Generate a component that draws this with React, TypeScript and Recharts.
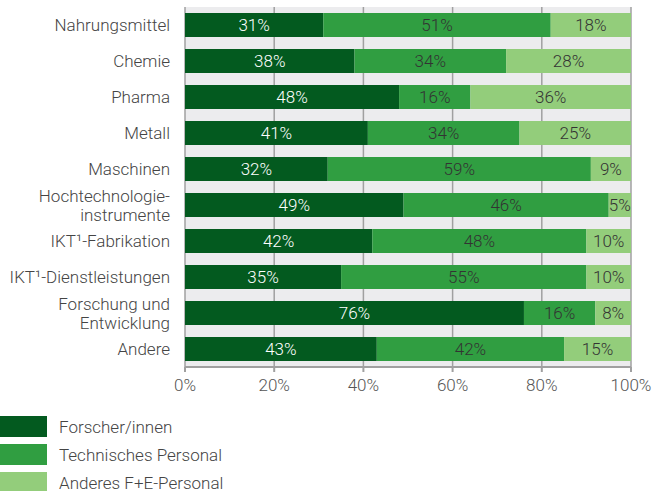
import React from 'react';
import { BarChart, Bar, XAxis, YAxis, CartesianGrid, LabelList } from 'recharts';

const categories = [
  'Nahrungsmittel',
  'Chemie',
  'Pharma',
  'Metall',
  'Maschinen',
  'Hochtechnologie-\ninstrumente',
  'IKT\u00b9-Fabrikation',
  'IKT\u00b9-Dienstleistungen',
  'Forschung und\nEntwicklung',
  'Andere',
];
const forscher = [31, 38, 48, 41, 32, 49, 42, 35, 76, 43];
const technisch = [51, 34, 16, 34, 59, 46, 48, 55, 16, 42];
const anderes = [18, 28, 36, 25, 9, 5, 10, 10, 8, 15];
const xTicks = [0, 20, 40, 60, 80, 100];

const series = [
  { key: 'forscher', name: 'Forscher/innen', color: '#035a1f', text: '#ffffff' },
  { key: 'technisch', name: 'Technisches Personal', color: '#309e41', text: '#333333' },
  { key: 'anderes', name: 'Anderes F+E-Personal', color: '#93cd7b', text: '#333333' },
];

const data = categories.map((c, i) => ({
  name: c,
  forscher: forscher[i],
  technisch: technisch[i],
  anderes: anderes[i],
}));

const FONT = 'Roboto, "Noto Sans", sans-serif';
const FS = 17;

const CategoryTick = (props: any) => {
  const { x, y, payload } = props;
  const lines = String(payload.value).split('\n');
  const lh = 19;
  const start = -((lines.length - 1) * lh) / 2;
  return (
    <text
      x={x}
      y={y}
      textAnchor="end"
      fill="#444"
      fontSize={FS}
      fontFamily={FONT}
      fontWeight={300}
    >
      {lines.map((l, i) => (
        <tspan key={i} x={x} dy={i === 0 ? start + 6 : lh}>
          {l}
        </tspan>
      ))}
    </text>
  );
};

export default function App() {
  return (
    <div style={{ position: 'absolute', left: 0, top: 0, width: 652, height: 491, background: '#fff', overflow: 'hidden' }}>
      <BarChart
        width={652}
        height={491}
        data={data}
        layout="vertical"
        margin={{ top: 7, right: 21, bottom: 94, left: 0 }}
        barCategoryGap={12}
      >
        <CartesianGrid fill="#ececee" horizontal={false} stroke="#a0a0a0" strokeWidth={1.5} />
        <XAxis
          type="number"
          domain={[0, 100]}
          ticks={xTicks}
          tickFormatter={(v) => `${v}%`}
          height={30}
          stroke="#a0a0a0"
          strokeWidth={2}
          tickSize={5}
          tickMargin={7}
          tick={{ fill: '#555', fontSize: FS, fontFamily: FONT, fontWeight: 300 }}
          allowDataOverflow
        />
        <XAxis
          xAxisId="top"
          orientation="top"
          type="number"
          domain={[0, 100]}
          height={0}
          tick={false}
          tickLine={false}
          stroke="#a0a0a0"
          strokeWidth={2}
        />
        <YAxis
          type="category"
          dataKey="name"
          width={185}
          axisLine={false}
          tickLine={false}
          tickSize={0}
          tickMargin={15}
          interval={0}
          tick={<CategoryTick />}
        />
        {series.map((s) => (
          <Bar
            key={s.key}
            dataKey={s.key}
            name={s.name}
            stackId="a"
            fill={s.color}
            barSize={24}
            isAnimationActive={false}
          >
            <LabelList
              dataKey={s.key}
              position="center"
              formatter={(v: any) => `${v}%`}
              fill={s.text}
              fontSize={FS}
              fontFamily={FONT}
              fontWeight={300}
            />
          </Bar>
        ))}
      </BarChart>
      <div style={{ position: 'absolute', left: 0, top: 416, fontFamily: FONT, fontWeight: 300, fontSize: FS, color: '#444' }}>
        {series.map((s) => (
          <div key={s.key} style={{ display: 'flex', alignItems: 'center', height: 21, marginBottom: 7 }}>
            <div style={{ width: 47, height: 21, background: s.color, marginRight: 12 }} />
            <span>{s.name}</span>
          </div>
        ))}
      </div>
    </div>
  );
}
